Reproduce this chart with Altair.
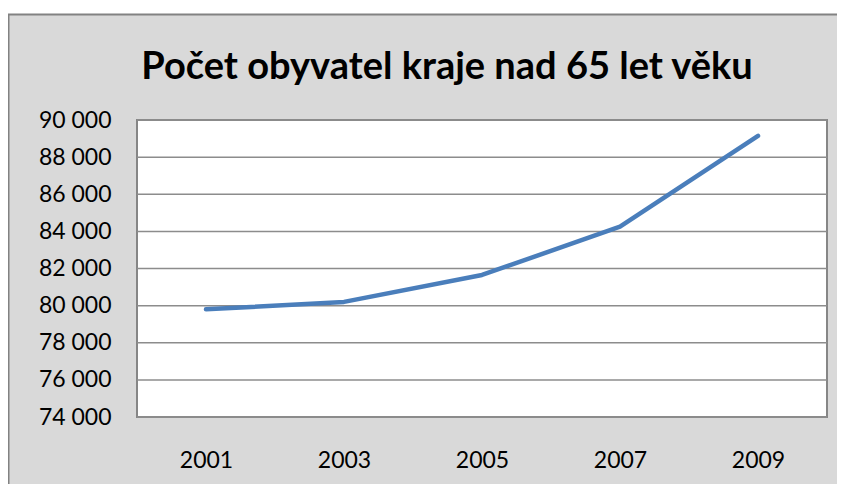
import altair as alt
import pandas as pd

years = ["2001", "2003", "2005", "2007", "2009"]
values = [79800, 80200, 81650, 84250, 89150]
y_ticks = [74000, 76000, 78000, 80000, 82000, 84000, 86000, 88000, 90000]
title_text = "Počet obyvatel kraje nad 65 let věku"

W, H = 690, 297
FONT = "Lato"

df = pd.DataFrame({"rok": years, "pocet": values})
grid_df = pd.DataFrame({"tick": y_ticks})
one = pd.DataFrame({"k": [0]})

y_scale = alt.Scale(domain=[74000, 90000], nice=False, zero=False)
y_axis = alt.Axis(title=None, values=y_ticks, ticks=False, domain=False, grid=False,
                  labelPadding=26, labelFontSize=23, labelFont=FONT,
                  labelColor="#000000", zindex=1,
                  labelExpr="replace(format(datum.value, ',d'), ',', ' ')")
x_enc = alt.X("rok:O", sort=years,
              scale=alt.Scale(type="point", padding=0.5),
              axis=alt.Axis(title=None, labelAngle=0, ticks=False, domain=False,
                            grid=False, labelPadding=32, labelFontSize=23,
                            labelFont=FONT, labelColor="#000000", zindex=1))

frame = alt.Chart(one).mark_rect(fill="#d9d9d9", stroke="#828282", strokeWidth=2).encode(
    x=alt.value(-128.5), x2=alt.value(W + 80), y=alt.value(-105.5), y2=alt.value(H + 120))

plot_bg = alt.Chart(one).mark_rect(fill="#ffffff", stroke="#868686", strokeWidth=2).encode(
    x=alt.value(0), x2=alt.value(W), y=alt.value(0), y2=alt.value(H))

grid = alt.Chart(grid_df).mark_rule(color="#8c8c8c", strokeWidth=1.5).encode(
    y=alt.Y("tick:Q", scale=y_scale, axis=y_axis))

line = alt.Chart(df).mark_line(color="#4a7ebb", strokeWidth=4.5, strokeCap="round",
                               strokeJoin="round").encode(
    x=x_enc,
    y=alt.Y("pocet:Q", scale=y_scale, axis=y_axis))

chart = alt.layer(frame, plot_bg, grid, line).properties(
    width=W, height=H,
    title=alt.TitleParams(title_text, font=FONT, fontSize=38, fontWeight="bold",
                          color="#000000", anchor="middle", frame="group",
                          baseline="alphabetic", offset=0, dy=103.5, dx=-35),
    autosize=alt.AutoSizeParams(type="none"),
    padding={"left": 129, "top": 112, "right": 10, "bottom": 67},
    background="#ffffff",
).configure_view(stroke=None)

chart.save("out.html", embed_options={"renderer": "svg", "actions": False})
